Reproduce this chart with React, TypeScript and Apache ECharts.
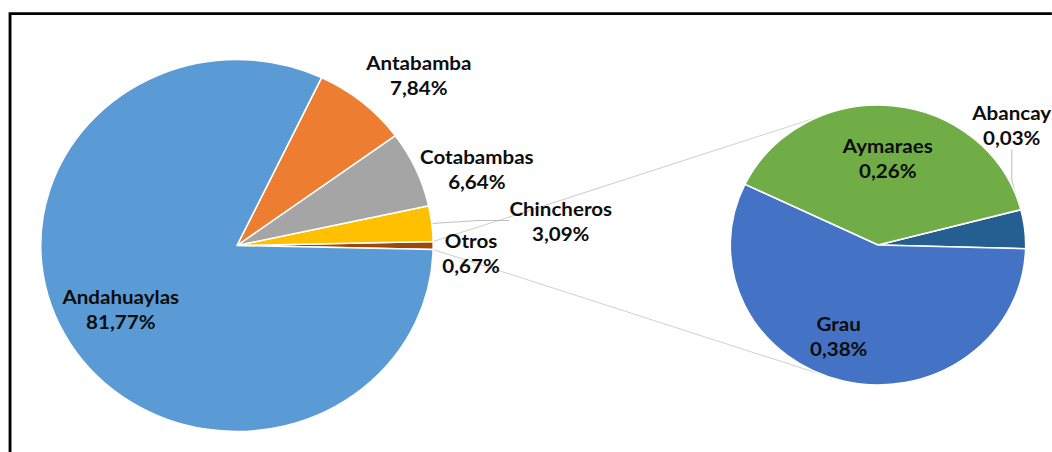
import React, { useEffect, useRef } from "react";
import * as echarts from "echarts";

// Main pie (counter-clockwise from 3 o'clock)
const mainNames = ["Otros", "Chincheros", "Cotabambas", "Antabamba", "Andahuaylas"];
const mainValues = [0.67, 3.09, 6.64, 7.84, 81.77];
const mainColors = ["#9E480E", "#FFC000", "#A5A5A5", "#ED7D31", "#5B9BD5"];

// Secondary pie (breakdown of "Otros")
const subNames = ["Abancay", "Aymaraes", "Grau"];
const subValues = [0.03, 0.26, 0.38];
const subColors = ["#255E91", "#70AD47", "#4472C4"];

const SX = 1.055; // horizontal stretch of the reference picture
const W = 1052 / SX;
const H = 452;

const C1 = [224.6, 245.5];
const R1 = 186;
const C2 = [832.2, 245];
const R2 = 140;

// label positions (chart coordinates)
const mainLabelPos: Record<string, [number, number]> = {
  Otros: [446.5, 252.5],
  Chincheros: [531.5, 220.5],
  Cotabambas: [452, 169],
  Antabamba: [397, 75],
  Andahuaylas: [114.5, 308.5],
};
const subLabelPos: Record<string, [number, number]> = {
  Abancay: [959, 124.5],
  Aymaraes: [841.5, 158],
  Grau: [795, 336],
};

const fmt = (v: number) => v.toFixed(2).replace(".", ",") + "%";

export default function App() {
  const ref = useRef<HTMLDivElement>(null);
  useEffect(() => {
    if (!ref.current) return;
    const chart = echarts.init(ref.current, null, { renderer: "svg" });

    const total = mainValues.reduce((a, b) => a + b, 0);
    const otrosIdx = mainNames.indexOf("Otros");
    const half = (mainValues[otrosIdx] / total) * 180;
    const startMain = -half;
    const startSub = -1.5;

    const rad = (d: number) => (d * Math.PI) / 180;
    const p1Top = [C1[0] + R1 * Math.cos(rad(half)), C1[1] - R1 * Math.sin(rad(half))];
    const p1Bot = [C1[0] + R1 * Math.cos(rad(-half)), C1[1] - R1 * Math.sin(rad(-half))];
    const aTop = 114;
    const aBot = -106;
    const p2Top = [C2[0] + R2 * Math.cos(rad(aTop)), C2[1] - R2 * Math.sin(rad(aTop))];
    const p2Bot = [C2[0] + R2 * Math.cos(rad(aBot)), C2[1] - R2 * Math.sin(rad(aBot))];

    const labelStyle = {
      show: true,
      position: "outside" as const,
      color: "#0d0d0d",
      fontFamily: "Lato",
      fontWeight: "bold" as const,
      fontSize: 19.5,
      lineHeight: 25,
      align: "center" as const,
      formatter: (p: any) => p.name + "\n" + fmt(p.value),
    };
    const lineStyle = { color: "#bfbfbf", width: 1 };

    chart.setOption({
      animation: false,
      backgroundColor: "#ffffff",
      graphic: [
        {
          type: "rect",
          z: 0,
          shape: { x: 9.5, y: 13.7, width: 2000, height: 1000 },
          style: { fill: "none", stroke: "#000", lineWidth: 2.7 },
          silent: true,
        },
        {
          type: "line",
          z: 0,
          shape: { x1: p1Top[0], y1: p1Top[1], x2: p2Top[0], y2: p2Top[1] },
          style: { stroke: "#d0d0d0", lineWidth: 1 },
          silent: true,
        },
        {
          type: "line",
          z: 0,
          shape: { x1: p1Bot[0], y1: p1Bot[1], x2: p2Bot[0], y2: p2Bot[1] },
          style: { stroke: "#d0d0d0", lineWidth: 1 },
          silent: true,
        },
      ],
      series: [
        {
          type: "pie",
          z: 2,
          center: C1,
          radius: R1,
          startAngle: startMain,
          clockwise: false,
          avoidLabelOverlap: false,
          silent: true,
          itemStyle: { borderColor: "#fff", borderWidth: 1.5 },
          label: labelStyle,
          labelLine: { show: false, lineStyle },
          labelLayout: (p: any) => {
            const pos = mainLabelPos[mainNames[p.dataIndex]];
            return { x: pos[0], y: pos[1], align: "center", verticalAlign: "middle" };
          },
          data: mainNames.map((n, i) => ({
            name: n,
            value: mainValues[i],
            itemStyle: { color: mainColors[i] },
            labelLine: { show: n === "Chincheros", lineStyle },
          })),
        },
        {
          type: "pie",
          z: 2,
          center: C2,
          radius: R2,
          startAngle: startSub,
          clockwise: false,
          avoidLabelOverlap: false,
          silent: true,
          itemStyle: { borderColor: "#fff", borderWidth: 1.5 },
          label: labelStyle,
          labelLine: { show: false, lineStyle },
          labelLayout: (p: any) => {
            const pos = subLabelPos[subNames[p.dataIndex]];
            return { x: pos[0], y: pos[1], align: "center", verticalAlign: "middle" };
          },
          data: subNames.map((n, i) => ({
            name: n,
            value: subValues[i],
            itemStyle: { color: subColors[i] },
            labelLine: { show: n === "Abancay", lineStyle },
          })),
        },
      ],
    });
    return () => chart.dispose();
  }, []);

  return (
    <div
      ref={ref}
      style={{
        position: "absolute",
        left: 0,
        top: 0,
        width: W,
        height: H,
        transform: `scaleX(${SX})`,
        transformOrigin: "0 0",
      }}
    />
  );
}
